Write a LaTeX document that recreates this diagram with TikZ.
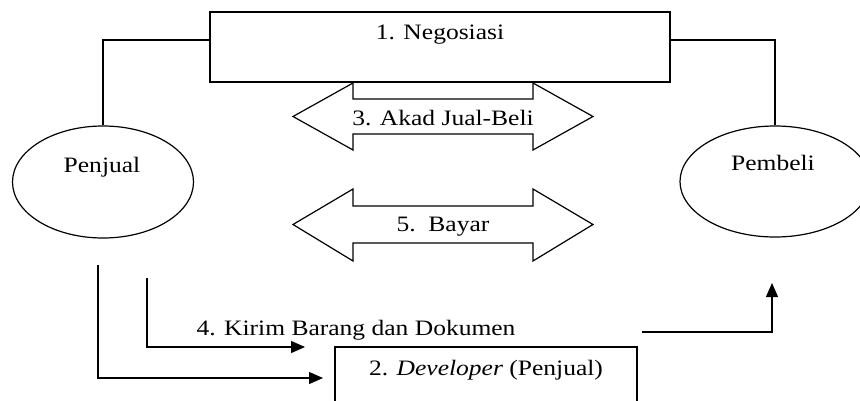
\documentclass[tikz,border=0pt]{standalone}
\usepackage{fontspec}
\setmainfont[FakeStretch=1.16]{Liberation Serif}
\usetikzlibrary{arrows.meta,shapes.geometric}
\begin{document}
\begin{tikzpicture}[x=1pt,y=-1pt, line width=1.2pt,
  font=\fontsize{22}{26}\selectfont,
  lbl/.style={inner sep=0pt, anchor=base},
  arr/.style={-{Triangle[length=14pt,width=12pt]}},
  boxnode/.style={draw, inner sep=0pt},
  ell/.style={draw, ellipse, inner sep=0pt}]
\useasboundingbox (0,0) rectangle (860,401);
\fill[white] (0,0) rectangle (860,401);
% top box
\node[boxnode, minimum width=460pt, minimum height=70pt] (neg) at (440,47) {};
\node[lbl] (negt) at (440,40) {1. Negosiasi};
% ellipses
\node[ell, minimum width=181pt, minimum height=112pt] (penjual) at (103,182) {};
\node[lbl] (penjualt) at (102,172) {Penjual};
\node[ell, minimum width=190pt, minimum height=111pt] (pembeli) at (775,181.5) {};
\node[lbl] (pembelit) at (773,171) {Pembeli};
% connections from negotiation box
\draw ([yshift=7pt]neg.west) -| (penjual.north);
\draw ([yshift=7pt]neg.east) -| (pembeli.north);
% double arrow 3
\draw (293,116.5) -- (353,83) -- (353,99) -- (533,99) -- (533,83) -- (593,116.5)
  -- (533,150) -- (533,134) -- (353,134) -- (353,150) -- cycle;
\node[lbl] (akad) at (443,126) {3. Akad Jual-Beli};
% double arrow 5
\draw (293,224.5) -- (353,189) -- (353,206) -- (533,206) -- (533,189) -- (593,224.5)
  -- (533,261) -- (533,243) -- (353,243) -- (353,261) -- cycle;
\node[lbl] (bayar) at (443,231) {5.\ \ Bayar};
% developer box
\node[boxnode, minimum width=302pt, minimum height=80pt] (dev) at (486,387) {};
\node[lbl] (devt) at (486,375) {2. \textit{Developer} (Penjual)};
% lower left arrows
\coordinate (s1) at (98,265);
\coordinate (e1) at (323,378);
\draw[arr] (s1) |- (e1);
\coordinate (s2) at (147,278);
\coordinate (e2) at (305,347);
\draw[arr] (s2) |- (e2);
\node[lbl] (kirim) at (356,335) {4. Kirim Barang dan Dokumen};
% right arrow to pembeli
\coordinate (s3) at (642,332);
\coordinate (e3) at (772,283);
\draw[arr] (s3) -| (e3);
\end{tikzpicture}
\end{document}
